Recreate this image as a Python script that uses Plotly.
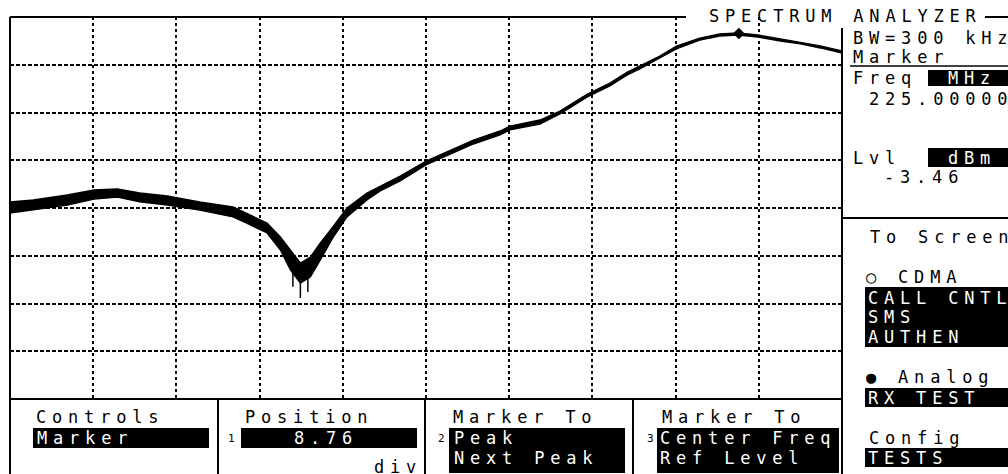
import numpy as np
import plotly.graph_objects as go

# ---------------- data (read from the screen) ----------------
# horizontal position in graticule divisions (0..10)
pos_div = [0.00, 0.28, 0.69, 1.01, 1.29, 1.56, 1.89, 2.28, 2.68, 2.89, 3.09, 3.25,
           3.37, 3.49, 3.61, 3.73, 3.88, 4.05, 4.29, 4.45, 4.69, 5.00, 5.29, 5.57,
           5.89, 6.01, 6.37, 6.61, 6.94, 7.21, 7.42, 7.57, 7.81, 8.01, 8.29, 8.53,
           8.75, 8.99, 9.26, 9.50, 9.74, 10.00]
# upper / lower envelope of the (noisy) trace, dBm (ref level 0 dBm, 10 dB/div)
level_hi = [-38.74, -38.32, -37.28, -36.23, -36.02, -36.86, -37.49, -38.74, -39.79, -41.47,
            -43.14, -46.07, -48.80, -51.52, -50.26, -47.33, -43.98, -40.00, -36.86, -35.39,
            -33.30, -30.16, -27.85, -25.76, -23.87, -22.83, -21.57, -19.69, -16.13, -13.82,
            -11.52, -10.26, -8.17, -6.07, -4.40, -3.56, -3.35, -3.77, -4.61, -5.24,
            -6.07, -7.12]
level_lo = [-41.05, -40.42, -39.37, -38.12, -37.70, -38.74, -39.37, -40.42, -41.88, -43.56,
            -45.24, -48.80, -52.98, -55.71, -54.45, -50.89, -46.28, -41.88, -38.32, -36.44,
            -34.35, -30.99, -28.69, -26.60, -24.71, -23.66, -22.41, -20.31, -16.75, -14.45,
            -12.15, -10.89, -8.59, -6.70, -4.82, -3.98, -3.77, -4.19, -5.03, -5.65,
            -6.49, -7.54]
# noise spikes at the notch
spike_pos = [3.40, 3.49, 3.58]
spike_level = [-56.5, -58.85, -57.6]
# marker
marker_pos = [8.76]
marker_level = [-3.46]

x_divs = list(range(1, 10))
y_grid = list(range(-70, 0, 10))

# ---------------- layout helpers (screen pixels -> paper) ----------------
L, R, T, B = 10, 842, 17, 399
W, H = 1008, 474


def PX(px):
    return (px - L) / (R - L)


def PY(py):
    return (B - py) / (B - T)


FONT = "DejaVu Sans Mono"

fig = go.Figure()

fig.add_trace(go.Scatter(x=pos_div, y=level_lo, mode="lines",
                         line=dict(color="black", width=1.3), hoverinfo="skip",
                         showlegend=False))
fig.add_trace(go.Scatter(x=pos_div, y=level_hi, mode="lines", fill="tonexty",
                         fillcolor="black", line=dict(color="black", width=1.3),
                         hoverinfo="skip", showlegend=False))

sx, sy = [], []
for p, lv in zip(spike_pos, spike_level):
    sx += [p, p, None]
    sy += [float(np.interp(p, pos_div, level_lo)), lv, None]
fig.add_trace(go.Scatter(x=sx, y=sy, mode="lines", line=dict(color="black", width=1.5),
                         hoverinfo="skip", showlegend=False))

fig.add_trace(go.Scatter(x=marker_pos, y=marker_level, mode="markers",
                         marker=dict(symbol="diamond", size=9, color="black"),
                         hoverinfo="skip", showlegend=False))

shapes = []


def hline(x0, x1, y, w=2):
    shapes.append(dict(type="line", xref="paper", yref="paper", x0=PX(x0), x1=PX(x1),
                       y0=PY(y), y1=PY(y), line=dict(color="black", width=w)))


def vline(x, y0, y1, w=2):
    shapes.append(dict(type="line", xref="paper", yref="paper", x0=PX(x), x1=PX(x),
                       y0=PY(y0), y1=PY(y1), line=dict(color="black", width=w)))


def box(x0, y0, x1, y1):
    shapes.append(dict(type="rect", xref="paper", yref="paper", x0=PX(x0), x1=PX(x1),
                       y0=PY(y0), y1=PY(y1), fillcolor="black", line=dict(width=0)))


hline(10, 686, 17)
hline(985, 1008, 17)
vline(10, 17, 474)
vline(842, 28, 474)
hline(10, 842, 399)
hline(850, 1008, 66, 1.5)
hline(842, 1008, 218)
for xs in (218, 425, 633):
    vline(xs, 399, 474)

box(928, 70, 1008, 86)
box(928, 148, 1008, 167)
box(865, 287, 1008, 347)
box(865, 388, 1008, 407)
box(865, 448, 1008, 467)
box(33, 428, 209, 448)
box(241, 428, 417, 448)
box(449, 428, 625, 473)
box(657, 428, 839, 473)

texts = [
    ("SPECTRUM ANALYZER", 708, 16.5, "black", 17),
    ("BW=300 kHz", 852, 37.5, "black", 17),
    ("Marker", 852, 57, "black", 17),
    ("Freq", 852, 77.5, "black", 17),
    ("MHz", 947, 78, "white", 17),
    ("225.00000", 868, 99, "black", 17),
    ("Lvl", 852, 158.5, "black", 17),
    ("dBm", 947, 158, "white", 17),
    ("-3.46", 883, 177, "black", 17),
    ("To Screen", 869, 237, "black", 17),
    ("○ CDMA", 865, 277, "black", 17),
    ("CALL CNTL", 867, 298, "white", 17),
    ("SMS", 867, 317, "white", 17),
    ("AUTHEN", 867, 337, "white", 17),
    ("● Analog", 865, 377, "black", 17),
    ("RX TEST", 867, 397.5, "white", 17),
    ("Config", 868, 438, "black", 17),
    ("TESTS", 867, 457.5, "white", 17),
    ("Controls", 35, 417, "black", 17),
    ("Marker", 36, 438, "white", 17),
    ("Position", 244, 417, "black", 17),
    ("1", 227, 439, "black", 11),
    ("8.76", 293, 438, "white", 17),
    ("div", 373, 467, "black", 17),
    ("Marker To", 452, 417, "black", 17),
    ("2", 437, 439, "black", 11),
    ("Peak", 453, 438, "white", 17),
    ("Next Peak", 453, 458, "white", 17),
    ("Marker To", 661, 417, "black", 17),
    ("3", 646, 439, "black", 11),
    ("Center Freq", 659, 438, "white", 17),
    ("Ref Level", 659, 458, "white", 17),
]

annotations = []
for t, xp, yp, c, s in texts:
    annotations.append(dict(text=t, xref="paper", yref="paper", x=PX(xp), y=PY(yp),
                            xanchor="left", yanchor="middle", align="left",
                            showarrow=False, borderpad=0,
                            font=dict(family=FONT, size=s, color=c)))

fig.update_layout(
    width=W, height=H,
    margin=dict(l=L, r=W - R, t=T, b=H - B, pad=0),
    paper_bgcolor="white", plot_bgcolor="white",
    showlegend=False,
    shapes=shapes,
    annotations=annotations,
    xaxis=dict(range=[0, 10], tickvals=x_divs, showticklabels=False, ticks="",
               showgrid=True, gridcolor="black", gridwidth=2, griddash="3px,3px",
               zeroline=False, showline=False, fixedrange=True),
    yaxis=dict(range=[-80, 0], tickvals=y_grid, showticklabels=False, ticks="",
               showgrid=True, gridcolor="black", gridwidth=2, griddash="4px,2px",
               zeroline=False, showline=False, fixedrange=True),
)

post = """
document.body.style.margin = '0';
document.body.style.overflow = 'hidden';
var gd = document.getElementById('{plot_id}');
gd.querySelectorAll('.annotation-text').forEach(function(t){ t.style.letterSpacing = '5.8px'; });
"""

fig.write_html("out.html", config={"displayModeBar": False, "staticPlot": True},
               post_script=post)
